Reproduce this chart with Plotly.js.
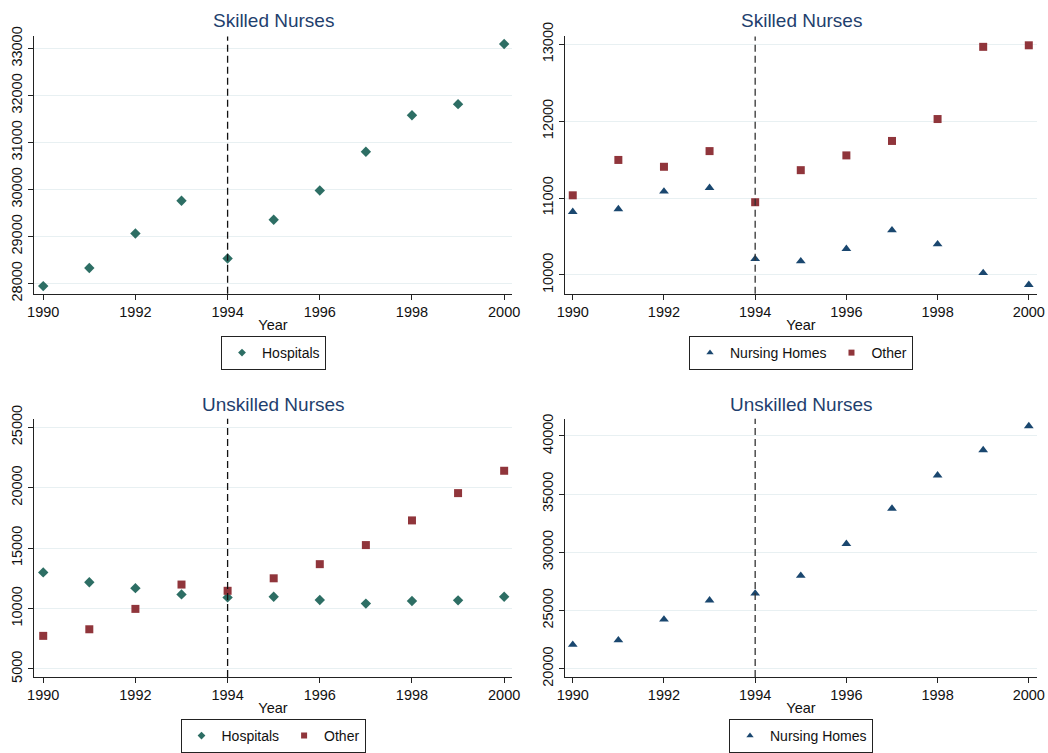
<!DOCTYPE html>
<html>
<head>
<meta charset="utf-8">
<script src="https://cdn.plot.ly/plotly-3.0.1.min.js"></script>
<style>html,body{margin:0;padding:0;background:#fff;}#chart{width:1048px;height:753px;}</style>
</head>
<body>
<div id="chart"></div>
<script>
// ---- Data ----
const years = [1990, 1991, 1992, 1993, 1994, 1995, 1996, 1997, 1998, 1999, 2000];

// Skilled Nurses
const skilledHospitals = [27945, 28330, 29063, 29762, 28533, 29357, 29980, 30805, 31581, 31818, 33098];
const skilledNursingHomes = [10822, 10857, 11087, 11133, 10208, 10179, 10340, 10583, 10400, 10026, 9872];
const skilledOther = [11036, 11496, 11407, 11611, 10946, 11363, 11555, 11743, 12028, 12967, 12987];

// Unskilled Nurses
const unskilledHospitals = [12993, 12177, 11687, 11170, 10925, 10980, 10707, 10408, 10626, 10680, 10980];
const unskilledOther = [7741, 8286, 9973, 11986, 11469, 12503, 13673, 15252, 17293, 19551, 21401];
const unskilledNursingHomes = [22062, 22458, 24237, 25876, 26469, 27994, 30734, 33757, 36610, 38785, 40847];

const panelTitles = ["Skilled Nurses", "Skilled Nurses", "Unskilled Nurses", "Unskilled Nurses"];
const xTicks = [1990, 1992, 1994, 1996, 1998, 2000];
const policyYear = 1994;

// ---- Styles ----
const W = 1048, H = 753;
const cTeal = "#2d6e64", cNavy = "#1a476f", cMaroon = "#90353b";
const font = "Liberation Sans, Arial, sans-serif";
const hosp = {symbol: "diamond", size: 8, color: cTeal};
const nh = {symbol: "triangle-up", size: 8.5, color: cNavy};
const oth = {symbol: "square", size: 8, color: cMaroon};

function tr(x, y, name, mk, xa, ya) {
  return {type: "scatter", mode: "markers", x: x, y: y, name: name,
    marker: {symbol: mk.symbol, size: mk.size, color: mk.color, line: {width: 0}},
    xaxis: xa, yaxis: ya, showlegend: false, cliponaxis: false};
}
// legend-only entries (smaller symbols, as in the reference key)
function lg(name, mk, xa, ya, leg) {
  return {type: "scatter", mode: "markers", x: [null], y: [null], name: name,
    marker: {symbol: mk.symbol, size: mk.size * 0.75, color: mk.color, line: {width: 0}},
    xaxis: xa, yaxis: ya, legend: leg, showlegend: true};
}

const data = [
  tr(years, skilledHospitals, "Hospitals", hosp, "x", "y"),
  tr(years, skilledNursingHomes, "Nursing Homes", nh, "x2", "y2"),
  tr(years, skilledOther, "Other", oth, "x2", "y2"),
  tr(years, unskilledHospitals, "Hospitals", hosp, "x3", "y3"),
  tr(years, unskilledOther, "Other", oth, "x3", "y3"),
  tr(years, unskilledNursingHomes, "Nursing Homes", nh, "x4", "y4"),
  lg("Hospitals", hosp, "x", "y", "legend"),
  lg("Nursing Homes", nh, "x2", "y2", "legend2"),
  lg("Other", oth, "x2", "y2", "legend2"),
  lg("Hospitals", hosp, "x3", "y3", "legend3"),
  lg("Other", oth, "x3", "y3", "legend3"),
  lg("Nursing Homes", nh, "x4", "y4", "legend4")
];

// pixel boxes -> paper domains
const px = (a, b) => [a / W, b / W];
const py = (top, bot) => [(H - bot) / H, (H - top) / H];

function xax(dom, range, anchor) {
  return {domain: dom, range: range, anchor: anchor, tickvals: xTicks,
    ticks: "outside", ticklen: 5, tickcolor: "#222", showline: true, linecolor: "#222", linewidth: 1,
    showgrid: false, zeroline: false, tickfont: {family: font, size: 14.5, color: "#111"},
    title: {text: "Year", font: {family: font, size: 14.5, color: "#111"}, standoff: 0}};
}
function yax(dom, range, anchor, dtick) {
  return {domain: dom, range: range, anchor: anchor, dtick: dtick, tickangle: -90,
    ticks: "outside", ticklen: 5, tickcolor: "#222", showline: true, linecolor: "#222", linewidth: 1,
    showgrid: true, gridcolor: "#e8f0f2", gridwidth: 1, zeroline: false,
    tickfont: {family: font, size: 14.5, color: "#111"}, tickformat: "d"};
}

const xd1 = px(34, 512), xd2 = px(565, 1037);
const yd1 = py(37, 298), yd2 = py(425, 687);

function legendAt(cx, topPx) {
  return {x: cx / W, y: (H - topPx) / H, xanchor: "center", yanchor: "top", orientation: "h",
    bordercolor: "#222", borderwidth: 1, bgcolor: "#fff",
    font: {family: font, size: 14, color: "#111"}, itemwidth: 30, tracegroupgap: 0};
}

function vline(xa, ya, color) {
  return {type: "line", xref: xa, yref: ya + " domain", x0: policyYear, x1: policyYear, y0: 0, y1: 1,
    line: {color: color, width: 1.3, dash: "7px,4px"}, layer: "above"};
}

function titleAnn(cx, cyPx, text) {
  return {text: text, x: cx / W, y: (H - cyPx) / H, xref: "paper", yref: "paper",
    xanchor: "center", yanchor: "middle", showarrow: false,
    font: {family: font, size: 19, color: "#1f3f6e"}};
}

const layout = {
  width: W, height: H, margin: {l: 0, r: 0, t: 0, b: 0},
  paper_bgcolor: "#fff", plot_bgcolor: "#fff",
  font: {family: font},
  xaxis: xax(xd1, [1989.8, 2000.17], "y"),
  yaxis: yax(yd1, [27784, 33259], "x", 1000),
  xaxis2: xax(xd2, [1989.83, 2000.18], "y2"),
  yaxis2: yax(yd1, [9757, 13102], "x2", 1000),
  xaxis3: xax(xd1, [1989.8, 2000.17], "y3"),
  yaxis3: yax(yd2, [4340, 25701], "x3", 5000),
  xaxis4: xax(xd2, [1989.83, 2000.18], "y4"),
  yaxis4: yax(yd2, [19294, 41469], "x4", 5000),
  legend: legendAt(273.5, 341),
  legend2: legendAt(801, 341),
  legend3: legendAt(273, 730),
  legend4: legendAt(801, 730),
  shapes: [vline("x", "y", "#111"), vline("x2", "y2", "#333"), vline("x3", "y3", "#111"), vline("x4", "y4", "#333")],
  annotations: [
    titleAnn(273, 21, panelTitles[0]), titleAnn(801, 21, panelTitles[1]),
    titleAnn(273, 411, panelTitles[2]), titleAnn(801, 411, panelTitles[3])
  ]
};

Plotly.newPlot("chart", data, layout, {staticPlot: true, displayModeBar: false});
</script>
</body>
</html>
